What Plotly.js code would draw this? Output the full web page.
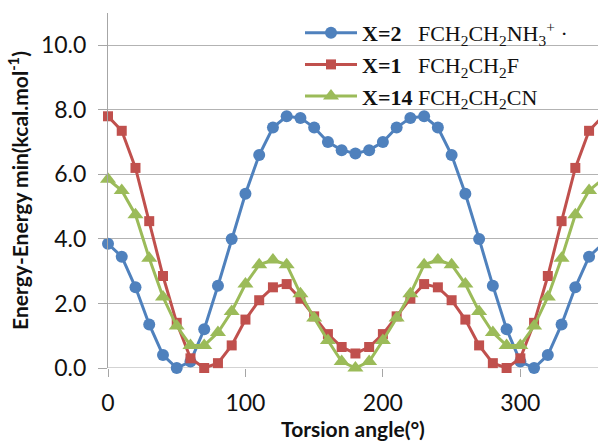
<!DOCTYPE html>
<html>
<head>
<meta charset="utf-8">
<script src="https://cdn.plot.ly/plotly-3.0.1.min.js"></script>
<style>html,body{margin:0;padding:0;background:#fff;}#chart{width:598px;height:441px;}</style>
</head>
<body>
<div id="chart"></div>
<script>
// Torsion angle (degrees)
const angles = [0,10,20,30,40,50,60,70,80,90,100,110,120,130,140,150,160,170,180,190,200,210,220,230,240,250,260,270,280,290,300,310,320,330,340,350,360];
// X=2 FCH2CH2NH3+
const energyX2 = [3.85,3.45,2.5,1.35,0.4,0.0,0.2,1.2,2.55,4.0,5.4,6.6,7.45,7.8,7.75,7.45,7.0,6.75,6.65,6.75,7.0,7.45,7.75,7.8,7.45,6.6,5.4,4.0,2.55,1.2,0.2,0.0,0.4,1.35,2.5,3.45,3.85];
// X=1 FCH2CH2F
const energyX1 = [7.8,7.35,6.2,4.55,2.85,1.4,0.3,0.0,0.15,0.7,1.5,2.1,2.5,2.6,2.15,1.6,1.05,0.65,0.45,0.65,1.05,1.6,2.15,2.6,2.5,2.1,1.5,0.7,0.15,0.0,0.3,1.4,2.85,4.55,6.2,7.35,7.8];
// X=14 FCH2CH2CN
const energyX14 = [5.85,5.5,4.75,3.4,2.2,1.3,0.7,0.7,1.1,1.75,2.6,3.2,3.35,3.2,2.3,1.55,0.85,0.2,0.0,0.2,0.85,1.55,2.3,3.2,3.35,3.2,2.6,1.75,1.1,0.7,0.7,1.3,2.2,3.4,4.75,5.5,5.85];
const seriesNames = [
  "<b>X=2</b>\u00a0\u00a0\u00a0FCH<sub>2</sub>CH<sub>2</sub>NH<sub>3</sub><sup>+</sup> \u00b7",
  "<b>X=1</b>\u00a0\u00a0\u00a0FCH<sub>2</sub>CH<sub>2</sub>F",
  "<b>X=14</b> FCH<sub>2</sub>CH<sub>2</sub>CN"
];
const xTickVals = [0,100,200,300];
const yTickVals = [0,2,4,6,8,10];

const W = 490, H = 355, L = 108, T = 13;
function px(x){return (x-L)/W;}
function py(y){return (T+H-y)/H;}

const traces = [
  {x: angles, y: energyX2, name: seriesNames[0], type:'scatter', mode:'lines+markers',
   line:{color:'#4F81BD', width:3}, marker:{symbol:'circle', size:12, color:'#4F81BD'}, cliponaxis:false},
  {x: angles, y: energyX1, name: seriesNames[1], type:'scatter', mode:'lines+markers',
   line:{color:'#C0504D', width:3}, marker:{symbol:'square', size:10, color:'#C0504D'}, cliponaxis:false},
  {x: angles, y: energyX14, name: seriesNames[2], type:'scatter', mode:'lines+markers',
   line:{color:'#9BBB59', width:3}, marker:{symbol:'triangle-up', size:14, color:'#9BBB59'}, cliponaxis:false}
];

const layout = {
  width: 598, height: 441,
  margin: {l: L, r: 0, t: T, b: 441 - T - H, pad: 0},
  paper_bgcolor: '#fff', plot_bgcolor: '#fff',
  font: {family: 'Lato, "Open Sans", sans-serif', color: '#1a1a1a'},
  showlegend: true,
  legend: {
    x: px(300), y: py(12), xanchor: 'left', yanchor: 'top',
    bgcolor: 'rgba(0,0,0,0)', borderwidth: 0,
    font: {family: '"Liberation Serif", "Times New Roman", serif', size: 22, color: '#111'},
    itemwidth: 52, tracegroupgap: 0
  },
  xaxis: {
    range: [0, 356.5], tickvals: xTickVals, ticktext: xTickVals.map(String),
    showgrid: false, zeroline: false, showline: false,
    ticks: 'outside', ticklen: 8, tickcolor: '#a6a6a6', tickwidth: 1,
    tickfont: {size: 23, color: '#111'}, ticklabelstandoff: 6,
    title: {text: '<b>Torsion angle(°)</b>', font: {size: 21, color: '#111'}, standoff: 4}
  },
  yaxis: {
    range: [0, 11], tickvals: yTickVals, ticktext: yTickVals.map(v => v.toFixed(1)),
    showgrid: true, gridcolor: '#b3b3b3', gridwidth: 1,
    zeroline: false, showline: true, linecolor: '#a6a6a6', linewidth: 1,
    ticks: 'outside', ticklen: 9, tickcolor: '#a6a6a6', tickwidth: 1,
    tickfont: {size: 23, color: '#111'}, ticklabelstandoff: 7,
    title: {text: '<b>Energy-Energy min(kcal.mol<sup>-1</sup>)</b>', font: {size: 21, color: '#111'}, standoff: 6}
  },
  shapes: [
    // x-axis line at y = 0
    {type:'line', xref:'paper', yref:'y', x0:0, x1:1, y0:0, y1:0, line:{color:'#a6a6a6', width:1}, layer:'between'},
    // white legend background hiding gridlines only
    {type:'rect', xref:'paper', yref:'paper', x0:px(304), x1:px(563), y0:py(104), y1:py(18), fillcolor:'#fff', line:{width:0}, layer:'between'},
    {type:'rect', xref:'paper', yref:'paper', x0:px(360), x1:px(563), y0:py(114), y1:py(104), fillcolor:'#fff', line:{width:0}, layer:'between'}
  ]
};

Plotly.newPlot('chart', traces, layout, {displayModeBar: false, staticPlot: true});
</script>
</body>
</html>
